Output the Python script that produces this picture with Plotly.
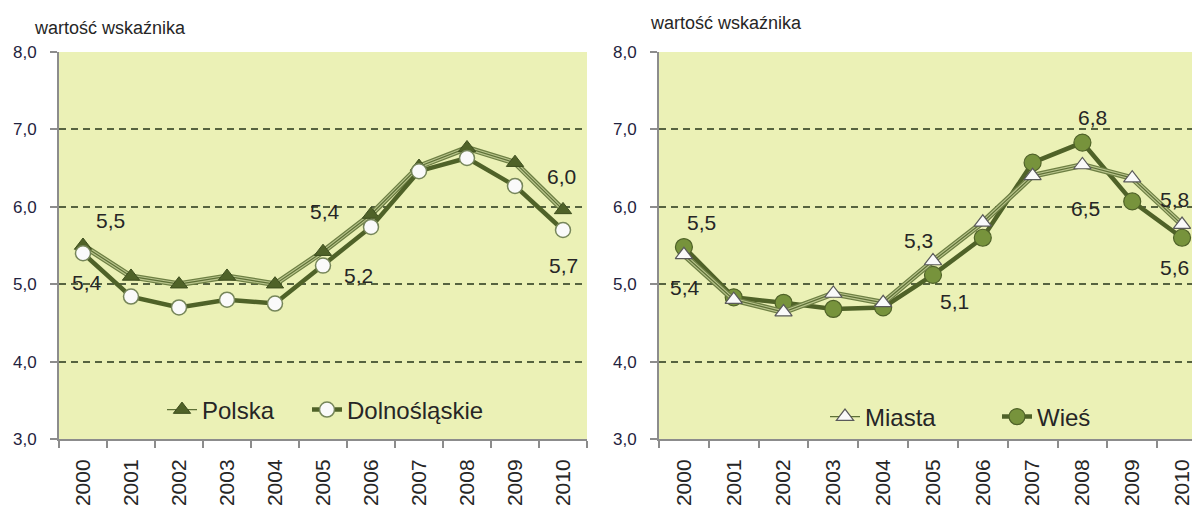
import plotly.graph_objects as go

# ---------------- data ----------------
years = ["2000", "2001", "2002", "2003", "2004", "2005", "2006", "2007", "2008", "2009", "2010"]
polska = [5.5, 5.1, 5.0, 5.1, 5.0, 5.42, 5.9, 6.52, 6.76, 6.57, 5.96]
dolnoslaskie = [5.4, 4.84, 4.7, 4.8, 4.75, 5.24, 5.74, 6.46, 6.63, 6.27, 5.7]
miasta = [5.38, 4.8, 4.64, 4.88, 4.76, 5.3, 5.8, 6.4, 6.54, 6.37, 5.77]
wies = [5.48, 4.83, 4.76, 4.68, 4.7, 5.12, 5.6, 6.57, 6.83, 6.07, 5.6]
y_ticks = [3, 4, 5, 6, 7, 8]
axis_title = "wartość wskaźnika"

# labelled points: (series, year index, dx px, dy px)
labels_left = [("polska", 0, 27, 25), ("polska", 5, 2, 40), ("polska", 10, -2, 33),
               ("dol", 0, 4, -29), ("dol", 5, 35, -10), ("dol", 10, 0, -35)]
labels_right = [("wies", 0, 18, 25), ("miasta", 0, 1, -33), ("miasta", 5, -14, 20),
                ("wies", 5, 22, -27), ("wies", 8, 10, 25), ("miasta", 8, 3, -44),
                ("miasta", 10, -8, 25), ("wies", 10, -8, -30)]
series = {"polska": polska, "dol": dolnoslaskie, "miasta": miasta, "wies": wies}

W, H = 1192, 506
FONT = "Liberation Sans, Arial, sans-serif"
DARK = "#4f6228"
LIGHT_LINE = "#b9c48c"
BG = "#ebf1b6"
GRID = "#56633f"
AXIS = "#8c8c8c"
TXT = "#262626"

fig = go.Figure()

def triple_line(xa, ya, y, name, marker, legend):
    # compound (triple) line: dark outer, light inner, dark centre
    fig.add_trace(go.Scatter(x=years, y=y, mode="lines", xaxis=xa, yaxis=ya,
                             line=dict(color="#6d7f43", width=6), showlegend=False, hoverinfo="skip"))
    fig.add_trace(go.Scatter(x=years, y=y, mode="lines", xaxis=xa, yaxis=ya,
                             line=dict(color=LIGHT_LINE, width=3.5), showlegend=False, hoverinfo="skip"))
    fig.add_trace(go.Scatter(x=years, y=y, mode="lines+markers", xaxis=xa, yaxis=ya, name=name,
                             line=dict(color="#5d7035", width=1.2), marker=marker, legend=legend))

def thick_line(xa, ya, y, name, marker, legend):
    fig.add_trace(go.Scatter(x=years, y=y, mode="lines+markers", xaxis=xa, yaxis=ya, name=name,
                             line=dict(color=DARK, width=4.5), marker=marker, legend=legend))

# left chart
triple_line("x", "y", polska, "Polska",
            dict(symbol="triangle-up", size=15, color="#4f6228", line=dict(color="#3d4d1e", width=1)),
            "legend")
thick_line("x", "y", dolnoslaskie, "Dolnośląskie",
           dict(symbol="circle", size=15, color="#fafafa", line=dict(color="#76865a", width=1.5)),
           "legend2")
# right chart
thick_line("x2", "y2", wies, "Wieś",
           dict(symbol="circle", size=17, color="#77933c", line=dict(color="#4f6228", width=1.2)),
           "legend4")
triple_line("x2", "y2", miasta, "Miasta",
            dict(symbol="triangle-up", size=15, color="#fafafa", line=dict(color="#5a5a5a", width=1.2)),
            "legend3")

def fmt(v):
    return f"{v:.1f}".replace(".", ",")

annotations = []
for lst, xr, yr in ((labels_left, "x", "y"), (labels_right, "x2", "y2")):
    for key, i, dx, dy in lst:
        v = series[key][i]
        annotations.append(dict(x=i, y=v, xref=xr, yref=yr, text=fmt(v), showarrow=False,
                                xshift=dx, yshift=dy, xanchor="center", yanchor="middle",
                                font=dict(family=FONT, size=21, color=TXT)))
# axis titles
annotations.append(dict(x=32 / W, y=1 - 28 / H, xref="paper", yref="paper", text=axis_title,
                        showarrow=False, xanchor="left", yanchor="middle",
                        font=dict(family=FONT, size=18, color=TXT)))
annotations.append(dict(x=648 / W, y=1 - 23 / H, xref="paper", yref="paper", text=axis_title,
                        showarrow=False, xanchor="left", yanchor="middle",
                        font=dict(family=FONT, size=18, color=TXT)))

y_dom = [1 - 439 / H, 1 - 52 / H]
xcommon = dict(type="category", tickson="boundaries", ticks="outside", ticklen=7, tickwidth=1.5,
               tickcolor=AXIS, showline=True, linecolor=AXIS, linewidth=2, showgrid=False,
               tickangle=-90, tickfont=dict(family=FONT, size=21, color=TXT), ticklabelstandoff=10,
               automargin=False, fixedrange=True)
ycommon = dict(range=[3, 8], tickvals=y_ticks, tickformat=".1f", ticks="outside", ticklen=7,
               tickwidth=1.5, tickcolor=AXIS, showline=True, linecolor=AXIS, linewidth=2,
               showgrid=True, gridcolor=GRID, gridwidth=2, griddash="7px,5px", zeroline=False,
               tickfont=dict(family=FONT, size=17, color="#1f2340"), ticklabelstandoff=10,
               automargin=False, domain=y_dom, fixedrange=True)

def leg(text_x, text_y):
    return dict(orientation="h", x=(text_x - 43) / W, y=1 - text_y / H, xanchor="left",
                yanchor="middle", bgcolor="rgba(0,0,0,0)", borderwidth=0,
                font=dict(family=FONT, size=24, color=TXT))

fig.update_layout(
    template="none",
    width=W, height=H, margin=dict(l=0, r=0, t=0, b=0, autoexpand=False),
    paper_bgcolor="white", plot_bgcolor=BG, separators=", ",
    font=dict(family=FONT, color=TXT),
    xaxis=dict(domain=[59 / W, 587 / W], range=[-0.5, 10.5], anchor="y", **xcommon),
    yaxis=dict(anchor="x", **ycommon),
    xaxis2=dict(domain=[659 / W, 1.0], range=[-0.5, 10.2], anchor="y2", **xcommon),
    yaxis2=dict(anchor="x2", **ycommon),
    legend=leg(205, 410),
    legend2=leg(350, 410),
    legend3=leg(868, 417),
    legend4=leg(1040, 417),
    annotations=annotations,
)
fig.write_html("out.html", config={"displayModeBar": False},
               post_script="document.body.style.margin='0px';document.body.style.overflow='hidden';")
